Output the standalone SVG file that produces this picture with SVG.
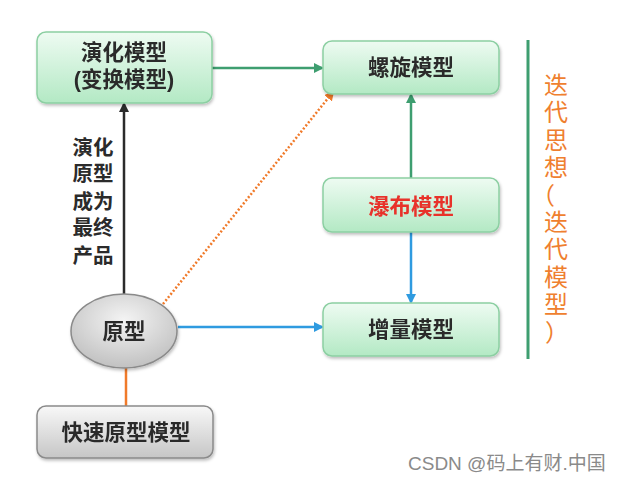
<svg xmlns="http://www.w3.org/2000/svg" width="619" height="483" viewBox="0 0 619 483">
<style>
.box{fill:url(#gg);stroke:#8ccfa2;stroke-width:1.5}
.gbox{fill:url(#gr);stroke:#8a8a8a;stroke-width:1.5}
.t{font-family:"Liberation Sans","Noto Sans CJK SC",sans-serif;font-weight:bold;font-size:21.5px;fill:#2b2b2b;text-anchor:middle}
.lbl{font-family:"Liberation Sans","Noto Sans CJK SC",sans-serif;font-weight:bold;font-size:20.5px;fill:#2b2b2b;text-anchor:middle}
.side{font-family:"Liberation Sans","Noto Sans CJK SC",sans-serif;font-size:24px;fill:#ef7f2f;text-anchor:middle}
</style>
<defs>
<linearGradient id="gg" x1="0" y1="0" x2="0" y2="1"><stop offset="0" stop-color="#eefbf2"/><stop offset="1" stop-color="#b3e9c4"/></linearGradient>
<linearGradient id="gr" x1="0" y1="0" x2="0" y2="1"><stop offset="0" stop-color="#f8f8f8"/><stop offset="1" stop-color="#c6c6c6"/></linearGradient>
<radialGradient id="ge" cx="0.5" cy="0.35" r="0.7"><stop offset="0" stop-color="#f4f4f4"/><stop offset="1" stop-color="#bdbdbd"/></radialGradient>
<filter id="sh" x="-10%" y="-10%" width="120%" height="130%"><feDropShadow dx="1" dy="2" stdDeviation="1.5" flood-color="#000" flood-opacity="0.25"/></filter>
<marker id="ag" markerWidth="10" markerHeight="10" refX="8" refY="5" orient="auto" markerUnits="userSpaceOnUse"><path d="M0,0 L10,5 L0,10 Z" fill="#3e9e70"/></marker>
<marker id="ab" markerWidth="10" markerHeight="10" refX="8" refY="5" orient="auto" markerUnits="userSpaceOnUse"><path d="M0,0 L10,5 L0,10 Z" fill="#2f9be0"/></marker>
<marker id="ak" markerWidth="10" markerHeight="10" refX="8" refY="5" orient="auto" markerUnits="userSpaceOnUse"><path d="M0,0 L10,5 L0,10 Z" fill="#2b2b2b"/></marker>
<marker id="ao" markerWidth="10" markerHeight="10" refX="8" refY="5" orient="auto" markerUnits="userSpaceOnUse"><path d="M0,0 L10,5 L0,10 Z" fill="#f07a2a"/></marker>
</defs>
<rect width="619" height="483" fill="#ffffff"/>
<g id="connectors" fill="none" stroke-width="2.5">
<line x1="212" y1="68" x2="322" y2="68" stroke="#3e9e70" marker-end="url(#ag)"/>
<line x1="411" y1="178" x2="411" y2="95" stroke="#3e9e70" marker-end="url(#ag)"/>
<line x1="411" y1="232" x2="411" y2="302" stroke="#2f9be0" marker-end="url(#ab)"/>
<line x1="178" y1="327" x2="322" y2="327" stroke="#2f9be0" marker-end="url(#ab)"/>
<line x1="124" y1="294" x2="124" y2="104" stroke="#2b2b2b" marker-end="url(#ak)"/>
<line x1="126" y1="368" x2="126" y2="406" stroke="#f07a2a"/>
<line x1="163" y1="304" x2="333" y2="92" stroke="#f07a2a" stroke-dasharray="2 2" marker-end="url(#ao)"/>
</g>
<g id="evolution" filter="url(#sh)">
<rect class="box" x="37" y="32" width="175" height="71" rx="9"/>
<text class="t" x="124" y="60">演化模型</text>
<text class="t" x="124" y="87">(变换模型)</text>
</g>
<g id="spiral" filter="url(#sh)">
<rect class="box" x="323" y="41" width="176" height="53" rx="9"/>
<text class="t" x="411" y="75">螺旋模型</text>
</g>
<g id="waterfall" filter="url(#sh)">
<rect class="box" x="323" y="178" width="176" height="54" rx="9"/>
<text class="t" x="411" y="214" style="fill:#e8302a">瀑布模型</text>
</g>
<g id="incremental" filter="url(#sh)">
<rect class="box" x="323" y="303" width="176" height="53" rx="9"/>
<text class="t" x="411" y="337">增量模型</text>
</g>
<g id="prototype" filter="url(#sh)">
<ellipse cx="124" cy="331" rx="53" ry="37" fill="url(#ge)" stroke="#8a8a8a" stroke-width="1.5"/>
<text class="t" x="124" y="339">原型</text>
</g>
<g id="rapid" filter="url(#sh)">
<rect class="gbox" x="37" y="406" width="176" height="52" rx="9"/>
<text class="t" x="126" y="440">快速原型模型</text>
</g>
<g id="edge-label">
<text class="lbl" x="93" y="155">演化</text>
<text class="lbl" x="93" y="181">原型</text>
<text class="lbl" x="93" y="209">成为</text>
<text class="lbl" x="93" y="235">最终</text>
<text class="lbl" x="93" y="263">产品</text>
</g>
<g id="iteration">
<line x1="528" y1="40" x2="528" y2="359" stroke="#3e9e70" stroke-width="3"/>
<text class="side"><tspan x="556" y="94">迭</tspan><tspan x="556" y="121">代</tspan><tspan x="556" y="149">思</tspan><tspan x="556" y="176">想</tspan><tspan x="543" y="204">（</tspan><tspan x="556" y="231">迭</tspan><tspan x="556" y="258">代</tspan><tspan x="556" y="286">模</tspan><tspan x="556" y="313">型</tspan><tspan x="557" y="341">）</tspan></text>
</g>
<text x="408" y="470" font-family="Liberation Sans, Noto Sans CJK SC, sans-serif" font-size="19" fill="#8a8a8a">CSDN @码上有财.中国</text>
</svg>
